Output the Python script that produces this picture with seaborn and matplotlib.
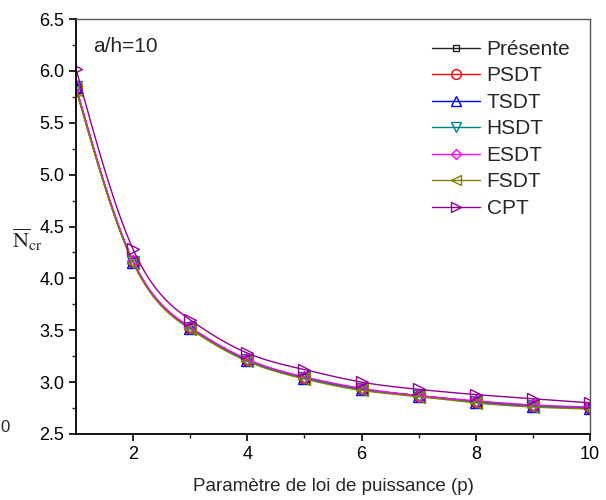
import numpy as np
import pandas as pd
import matplotlib
matplotlib.use("Agg")
import matplotlib.pyplot as plt
from matplotlib.lines import Line2D
import seaborn as sns

# Power-law index p and critical buckling load for each theory (a/h = 10)
p = [1, 2, 3, 4, 5, 6, 7, 8, 9, 10]
presente = [5.83, 4.16, 3.52, 3.21, 3.04, 2.93, 2.87, 2.81, 2.77, 2.75]
psdt     = [5.84, 4.16, 3.52, 3.21, 3.04, 2.93, 2.87, 2.81, 2.77, 2.75]
tsdt     = [5.84, 4.16, 3.52, 3.21, 3.04, 2.93, 2.87, 2.81, 2.77, 2.75]
hsdt     = [5.84, 4.16, 3.52, 3.21, 3.04, 2.93, 2.87, 2.81, 2.77, 2.75]
esdt     = [5.85, 4.17, 3.53, 3.22, 3.05, 2.94, 2.87, 2.82, 2.78, 2.76]
fsdt     = [5.82, 4.15, 3.51, 3.20, 3.03, 2.92, 2.86, 2.80, 2.76, 2.74]
cpt      = [6.02, 4.28, 3.60, 3.28, 3.12, 3.00, 2.93, 2.88, 2.84, 2.80]

series = ["Présente", "PSDT", "TSDT", "HSDT", "ESDT", "FSDT", "CPT"]
values = [presente, psdt, tsdt, hsdt, esdt, fsdt, cpt]
colors = ["#222222", "#ff0000", "#0000ff", "#008080", "#ff00ff", "#808000", "#900090"]
markers = ["s", "o", "^", "v", "D", "<", ">"]
msizes = [6, 8, 8, 8, 6, 8, 8]


def natural_spline(x, y, xs):
    """Natural cubic spline through (x, y), evaluated at xs."""
    x = np.asarray(x, float)
    y = np.asarray(y, float)
    n = len(x)
    h = np.diff(x)
    A = np.zeros((n, n))
    b = np.zeros(n)
    A[0, 0] = A[-1, -1] = 1.0
    for i in range(1, n - 1):
        A[i, i - 1] = h[i - 1]
        A[i, i] = 2 * (h[i - 1] + h[i])
        A[i, i + 1] = h[i]
        b[i] = 3 * ((y[i + 1] - y[i]) / h[i] - (y[i] - y[i - 1]) / h[i - 1])
    c = np.linalg.solve(A, b)
    idx = np.clip(np.searchsorted(x, xs) - 1, 0, n - 2)
    dx = xs - x[idx]
    bb = (y[idx + 1] - y[idx]) / h[idx] - h[idx] * (2 * c[idx] + c[idx + 1]) / 3
    dd = (c[idx + 1] - c[idx]) / (3 * h[idx])
    return y[idx] + bb * dx + c[idx] * dx ** 2 + dd * dx ** 3


sns.set_style("ticks")
plt.rcParams["font.family"] = ["Liberation Sans", "DejaVu Sans"]
plt.rcParams["mathtext.fontset"] = "stix"

fig = plt.figure(figsize=(6.06, 5.0), dpi=100)
ax = fig.add_axes([0.1254, 0.132, 0.8482, 0.830])

xs = np.linspace(1, 10, 400)
handles = []
for name, vals, col, mk, ms in zip(series, values, colors, markers, msizes):
    curve = pd.DataFrame({"p": xs, "N": natural_spline(p, vals, xs)})
    sns.lineplot(data=curve, x="p", y="N", ax=ax, color=col, lw=1.0,
                 estimator=None, sort=False)
    pts = pd.DataFrame({"p": p, "N": vals})
    sns.lineplot(data=pts, x="p", y="N", ax=ax, color=col, lw=0,
                 marker=mk, markersize=ms, markerfacecolor="none",
                 markeredgecolor=col, markeredgewidth=1.0,
                 estimator=None, sort=False)
    handles.append(Line2D([], [], color=col, lw=1.0, marker=mk, markersize=ms - 1,
                          markerfacecolor="none", markeredgecolor=col,
                          markeredgewidth=1.0, label=name))

ax.set_xlim(1, 10)
ax.set_ylim(2.5, 6.5)
ax.set_xticks([2, 4, 6, 8, 10])
ax.set_xticks([3, 5, 7, 9], minor=True)
ax.set_yticks(np.arange(2.5, 6.51, 0.5))
ax.set_yticks(np.arange(2.75, 6.5, 0.5), minor=True)
ax.yaxis.set_major_formatter(matplotlib.ticker.FormatStrFormatter("%.1f"))
ax.tick_params(which="major", direction="out", length=5, width=1.2,
               labelsize=13, colors="black")
ax.tick_params(which="minor", direction="out", length=3, width=1.0)
ax.tick_params(top=False, right=False)
for side in ["top", "right", "left", "bottom"]:
    ax.spines[side].set_visible(True)
    ax.spines[side].set_color("black")
ax.spines["left"].set_linewidth(1.3)
ax.spines["bottom"].set_linewidth(1.3)
ax.spines["top"].set_linewidth(1.0)
ax.spines["right"].set_linewidth(1.0)
ax.spines["top"].set_color("#555555")
ax.spines["right"].set_color("#555555")

ax.set_xlabel("Paramètre de loi de puissance (p)", fontsize=13.5, labelpad=11)
ax.set_ylabel("")
fig.text(0.045, 0.52, r"$\overline{\mathrm{N}}_{\mathrm{cr}}$", fontsize=16,
         ha="center", va="center")
ax.text(0.033, 0.933, "a/h=10", transform=ax.transAxes, fontsize=15,
        ha="left", va="center")
fig.text(0.0, 0.145, "0", fontsize=12, ha="left", va="center")

ax.legend(handles=handles, loc="upper right", bbox_to_anchor=(0.99, 0.985),
          frameon=False, fontsize=15, handlelength=2.3, handletextpad=0.3,
          labelspacing=0.36, borderaxespad=0.3)

fig.savefig("out.png", dpi=100)
